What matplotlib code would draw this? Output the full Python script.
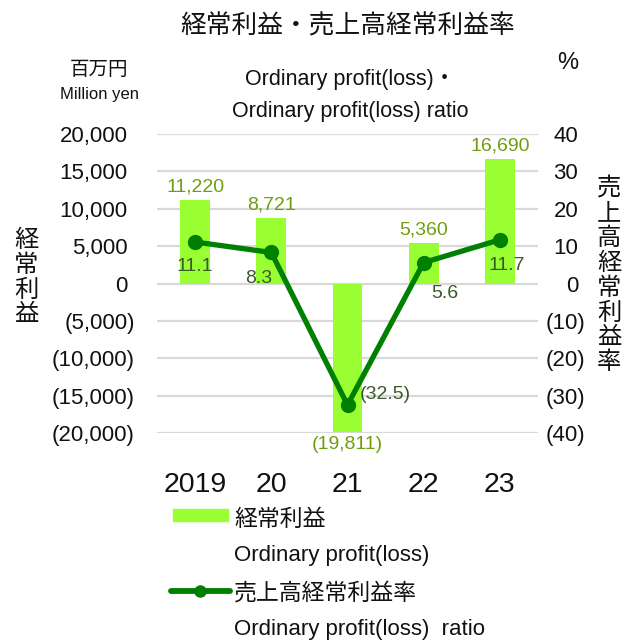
import matplotlib
matplotlib.use("Agg")
import matplotlib.pyplot as plt
from matplotlib.transforms import ScaledTranslation
from matplotlib.patches import Rectangle
from matplotlib.lines import Line2D
import numpy as np

plt.rcParams['font.family'] = ['Liberation Sans', 'Noto Sans CJK JP', 'DejaVu Sans']

years = ["2019", "20", "21", "22", "23"]
profit = [11220, 8721, -19811, 5360, 16690]
ratio = [11.1, 8.3, -32.5, 5.6, 11.7]
profit_labels = ["11,220", "8,721", "(19,811)", "5,360", "16,690"]
ratio_labels = ["11.1", "8.3", "(32.5)", "5.6", "11.7"]
left_ticks = [-20000, -15000, -10000, -5000, 0, 5000, 10000, 15000, 20000]
right_ticks = [-40, -30, -20, -10, 0, 10, 20, 30, 40]

BAR = "#99FF33"
LINE = "#008000"
BARLAB = "#6E9E10"
LINELAB = "#3B5A2A"
GRID = "#D9D9D9"

W, H = 622, 641
fig = plt.figure(figsize=(W / 100, H / 100), dpi=100)
L, R, T, B = 157, 538, 134, 433
ax = fig.add_axes([L / W, 1 - B / H, (R - L) / W, (B - T) / H])
x = np.arange(len(years))
ax.set_xlim(-0.5, len(years) - 0.5)
ax.set_ylim(-20000, 20000)
ax.set_yticks(left_ticks)
ax.set_yticklabels([f"{v:,}" if v >= 0 else f"({-v:,})" for v in left_ticks])
ax.grid(axis='y', color=GRID, linewidth=1.6, zorder=0)
ax.set_axisbelow(True)
for s in ax.spines.values():
    s.set_visible(False)
ax.tick_params(axis='y', length=0, pad=16, labelsize=16, labelcolor="#111111")
ax.set_xticks(x)
ax.set_xticklabels(years)
ax.tick_params(axis='x', length=0, pad=28, labelsize=20.5, labelcolor="#111111")

ax.bar(x, profit, width=0.39, color=BAR, zorder=2)
for xi, v, lab in zip(x, profit, profit_labels):
    off = 13 if v >= 0 else -13
    ax.annotate(lab, (xi, v), xytext=(0, off * 0.72), textcoords='offset points',
                ha='center', va='center', fontsize=14, color=BARLAB, zorder=5)

ax2 = ax.twinx()
ax2.set_ylim(-40, 40)
ax2.set_yticks(right_ticks)
ax2.set_yticklabels([f"{v}" if v >= 0 else f"({-v})" for v in right_ticks])
for s in ax2.spines.values():
    s.set_visible(False)
ax2.tick_params(axis='y', length=0, pad=34, labelsize=16, labelcolor="#111111")
ax2.plot(x, ratio, color=LINE, linewidth=3.8, marker='o', markersize=10, zorder=4)

offsets = [(0, -24), (-13, -26), (38, 10), (21, -31), (7, -26)]
for xi, v, lab, (dx, dy) in zip(x, ratio, ratio_labels, offsets):
    ax2.annotate(lab, (xi, v), xytext=(dx * 0.72, dy * 0.72), textcoords='offset points',
                 ha='center', va='center', fontsize=14, color=LINELAB, zorder=6)

fig.canvas.draw()
shift = ScaledTranslation(-7 / 100, 0, fig.dpi_scale_trans)
for tick, v in zip(ax.yaxis.get_major_ticks(), left_ticks):
    if v >= 0:
        tick.label1.set_transform(tick.label1.get_transform() + shift)
for tick, v in zip(ax2.yaxis.get_major_ticks(), right_ticks):
    tick.label2.set_horizontalalignment('right')
    if v >= 0:
        tick.label2.set_transform(tick.label2.get_transform() + shift)

cx = (L + R) / 2
def ft(px, py, s, **kw):
    fig.text(px / W, 1 - py / H, s, **kw)

ft(cx, 26, "経常利益・売上高経常利益率", ha='center', va='center', fontsize=18.5, color="#111111")
ft(350, 79, "Ordinary profit(loss)・", ha='center', va='center', fontsize=15.5, color="#111111")
ft(350, 111, "Ordinary profit(loss) ratio", ha='center', va='center', fontsize=15.5, color="#111111")
ft(99, 70, "百万円", ha='center', va='center', fontsize=14, color="#111111")
ft(99, 95, "Million yen", ha='center', va='center', fontsize=12, color="#111111")
ft(568, 63, "%", ha='center', va='center', fontsize=17, color="#111111")
ft(26, 278, "\n".join("経常利益"), ha='center', va='center', fontsize=17.5,
   linespacing=1.15, color="#111111")
ft(609, 276, "\n".join("売上高経常利益率"), ha='center', va='center', fontsize=17.5,
   linespacing=1.15, color="#111111")

# legend
fig.add_artist(Rectangle((173 / W, 1 - 521 / H), 55 / W, 12 / H, color=BAR,
                         transform=fig.transFigure))
fig.add_artist(Line2D([171 / W, 230 / W], [1 - 591 / H, 1 - 591 / H], color=LINE,
                      linewidth=4.2, solid_capstyle='round', transform=fig.transFigure))
fig.add_artist(Line2D([200 / W], [1 - 591 / H], color=LINE, marker='o', markersize=8,
                      linestyle='none', transform=fig.transFigure))
ft(234, 519, "経常利益", ha='left', va='center', fontsize=16.5, color="#111111")
ft(234, 556, "Ordinary profit(loss)", ha='left', va='center', fontsize=16, color="#111111")
ft(234, 593, "売上高経常利益率", ha='left', va='center', fontsize=16.5, color="#111111")
ft(234, 630, "Ordinary profit(loss)  ratio", ha='left', va='center', fontsize=16, color="#111111")

fig.savefig("out.png", dpi=100)
